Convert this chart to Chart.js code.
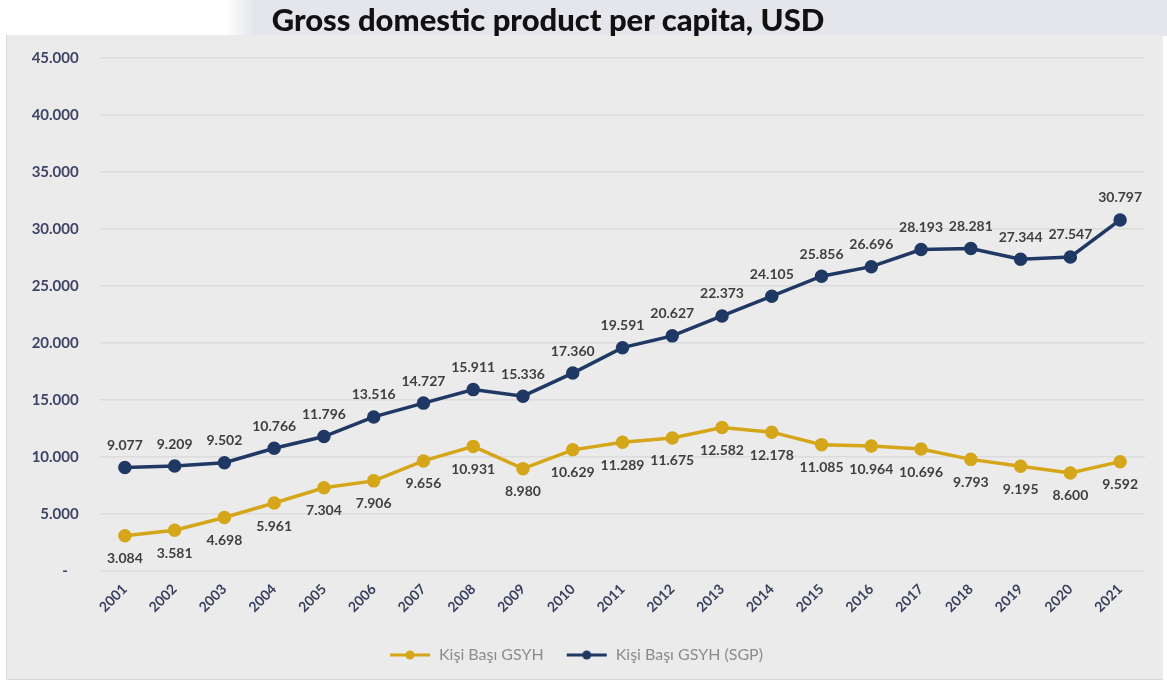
<!DOCTYPE html>
<html>
<head>
<meta charset="utf-8">
<script src="https://cdn.jsdelivr.net/npm/chart.js@4"></script>
<style>
  html, body { margin: 0; padding: 0; background: #fff; }
  body { width: 1167px; height: 684px; position: relative; overflow: hidden; font-family: Lato, "Open Sans", sans-serif; }
  #header {
    position: absolute; left: 0; top: 0; width: 1167px; height: 36px;
    background: linear-gradient(to right, #fff 0, #fff 225px, #e4e6ec 255px, #e4e6ec 100%);
  }
  #title {
    position: absolute; left: 0; top: 0; width: 1096px; margin: 0;
    text-align: center; font: 900 31px Lato, "Open Sans", sans-serif; color: #111; z-index: 2;
  }
  #panel {
    position: absolute; left: 6px; top: 35px; width: 1157px; height: 645px;
    background: #ebebeb; border-left: 1px solid #d9d9d9; border-bottom: 1px solid #d9d9d9;
    box-sizing: border-box;
  }
  #chart { position: absolute; left: 0; top: 0; }
</style>
</head>
<body>
<div id="header"></div>
<h1 id="title">Gross domestic product per capita, USD</h1>
<div id="panel"><canvas id="chart" width="1156" height="644"></canvas></div>
<script>
// years on the x axis
const years = ["2001", "2002", "2003", "2004", "2005", "2006", "2007", "2008", "2009", "2010",
  "2011", "2012", "2013", "2014", "2015", "2016", "2017", "2018", "2019", "2020", "2021"];

// per capita GDP, USD
const gsyh = [3084, 3581, 4698, 5961, 7304, 7906, 9656, 10931, 8980, 10629,
  11289, 11675, 12582, 12178, 11085, 10964, 10696, 9793, 9195, 8600, 9592];
const gsyhSgp = [9077, 9209, 9502, 10766, 11796, 13516, 14727, 15911, 15336, 17360,
  19591, 20627, 22373, 24105, 25856, 26696, 28193, 28281, 27344, 27547, 30797];

// y axis range
const yMin = 0;
const yMax = 45000;
const yStep = 5000;

const seriesNames = ["Kişi Başı GSYH", "Kişi Başı GSYH (SGP)"];
const gold = "#d5a619";
const navy = "#1f3864";
const fontFamily = "Lato, 'Open Sans', sans-serif";

// 1.234 style thousands separator
function fmt(v) {
  return String(Math.round(v)).replace(/\B(?=(\d{3})+(?!\d))/g, ".");
}

// legend marker: short line with a dot in the middle
function legendMarker(color) {
  const c = document.createElement("canvas");
  c.width = 42;
  c.height = 12;
  const g = c.getContext("2d");
  g.strokeStyle = color;
  g.lineWidth = 3;
  g.beginPath();
  g.moveTo(1, 6);
  g.lineTo(41, 6);
  g.stroke();
  g.fillStyle = color;
  g.beginPath();
  g.arc(21, 6, 4.5, 0, Math.PI * 2);
  g.fill();
  return c;
}
const markers = [legendMarker(gold), legendMarker(navy)];

// values written next to every point
const valueLabels = {
  id: "valueLabels",
  afterDatasetsDraw(chart) {
    const ctx = chart.ctx;
    ctx.save();
    ctx.font = "bold 14px " + fontFamily;
    ctx.fillStyle = "#3f3f3f";
    ctx.textAlign = "center";
    ctx.textBaseline = "middle";
    chart.data.datasets.forEach((ds, i) => {
      const meta = chart.getDatasetMeta(i);
      meta.data.forEach((pt, j) => {
        ctx.fillText(fmt(ds.data[j]), pt.x, pt.y + ds.labelOffset);
      });
    });
    ctx.restore();
  },
};

const ctx = document.getElementById("chart").getContext("2d");

const chart = new Chart(ctx, {
  type: "line",
  data: {
    labels: years,
    datasets: [
      {
        label: seriesNames[0],
        data: gsyh,
        borderColor: gold,
        backgroundColor: gold,
        pointBackgroundColor: gold,
        pointBorderColor: gold,
        borderWidth: 3.5,
        pointRadius: 5,
        labelOffset: 23,
      },
      {
        label: seriesNames[1],
        data: gsyhSgp,
        borderColor: navy,
        backgroundColor: navy,
        pointBackgroundColor: navy,
        pointBorderColor: navy,
        borderWidth: 3.5,
        pointRadius: 5,
        labelOffset: -22,
      },
    ],
  },
  options: {
    responsive: false,
    animation: false,
    layout: {
      padding: { top: 10, right: 18, bottom: 6, left: 0 },
    },
    scales: {
      x: {
        offset: true,
        grid: { display: false },
        border: { display: false },
        ticks: {
          minRotation: 45,
          maxRotation: 45,
          padding: 2,
          color: "#39405e",
          font: { family: fontFamily, size: 14, weight: "bold" },
        },
        afterFit(scale) {
          scale.height = 54;
        },
      },
      y: {
        min: yMin,
        max: yMax,
        grid: { color: "#dcdcdc", lineWidth: 1.5, drawTicks: false },
        border: { display: false },
        ticks: {
          stepSize: yStep,
          padding: 14,
          color: "#3d4466",
          font: { family: fontFamily, size: 15, weight: "bold" },
          // trailing spaces keep the labels clear of the plot edge
          callback: (v) => (v === 0 ? "-     " : fmt(v) + "  "),
        },
        afterFit(scale) {
          scale.width = 93;
        },
      },
    },
    plugins: {
      legend: {
        position: "bottom",
        labels: {
          usePointStyle: true,
          pointStyleWidth: 42,
          boxHeight: 12,
          padding: 22,
          color: "#8c8c8c",
          font: { family: fontFamily, size: 16 },
          generateLabels(chart) {
            const items = Chart.defaults.plugins.legend.labels.generateLabels(chart);
            items.forEach((it, i) => {
              it.pointStyle = markers[i];
            });
            return items;
          },
        },
      },
      tooltip: { enabled: false },
    },
  },
  plugins: [valueLabels],
});
</script>
</body>
</html>
